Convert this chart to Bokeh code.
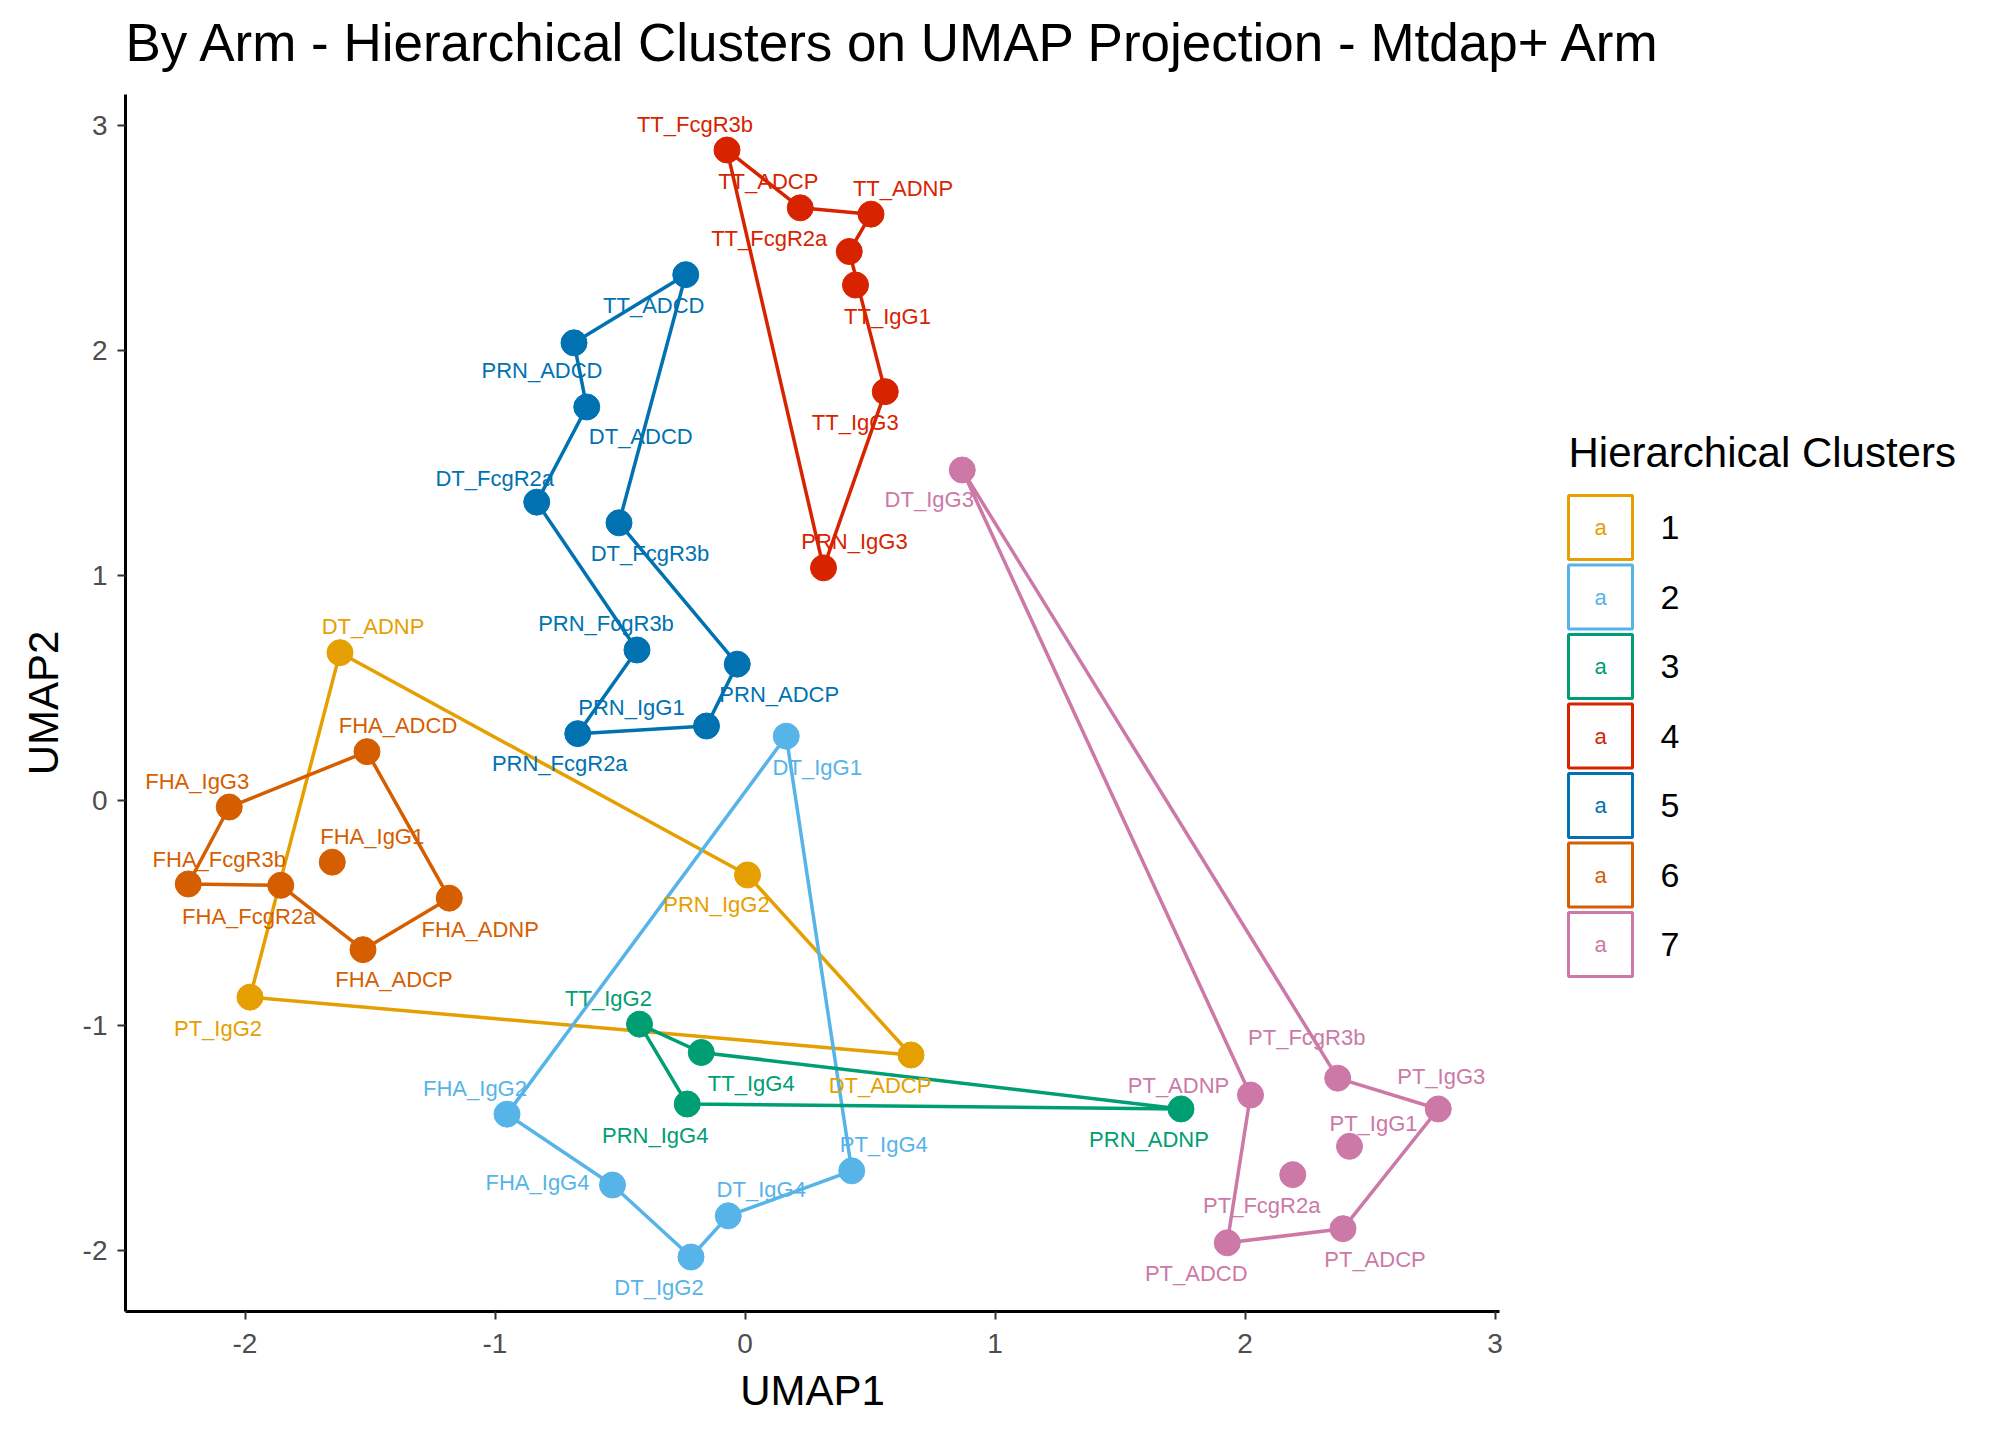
from bokeh.plotting import figure
from bokeh.models import FixedTicker, ColumnDataSource, Title
from bokeh.core.properties import value
from bokeh.embed import file_html
from bokeh.resources import INLINE

# ---------------- data ----------------
names = ["DT_ADNP", "PRN_IgG2", "DT_ADCP", "PT_IgG2",
         "DT_IgG1", "FHA_IgG2", "FHA_IgG4", "DT_IgG2", "DT_IgG4", "PT_IgG4",
         "TT_IgG2", "TT_IgG4", "PRN_IgG4", "PRN_ADNP",
         "TT_FcgR3b", "TT_ADCP", "TT_ADNP", "TT_FcgR2a", "TT_IgG1", "TT_IgG3", "PRN_IgG3",
         "TT_ADCD", "PRN_ADCD", "DT_ADCD", "DT_FcgR2a", "DT_FcgR3b", "PRN_FcgR3b",
         "PRN_ADCP", "PRN_IgG1", "PRN_FcgR2a",
         "FHA_ADCD", "FHA_IgG3", "FHA_FcgR3b", "FHA_FcgR2a", "FHA_IgG1", "FHA_ADNP", "FHA_ADCP",
         "DT_IgG3", "PT_ADNP", "PT_FcgR3b", "PT_IgG3", "PT_IgG1", "PT_FcgR2a", "PT_ADCD", "PT_ADCP"]
umap1 = [-1.620, 0.010, 0.664, -1.980,
         0.165, -0.952, -0.530, -0.216, -0.067, 0.427,
         -0.422, -0.175, -0.231, 1.744,
         -0.072, 0.221, 0.504, 0.417, 0.442, 0.561, 0.314,
         -0.237, -0.684, -0.633, -0.833, -0.504, -0.432,
         -0.031, -0.154, -0.669,
         -1.512, -2.063, -2.227, -1.857, -1.651, -1.183, -1.528,
         0.869, 2.022, 2.371, 2.773, 2.418, 2.191, 1.929, 2.392]
umap2 = [0.657, -0.331, -1.131, -0.874,
         0.286, -1.394, -1.709, -2.029, -1.846, -1.646,
         -0.994, -1.120, -1.349, -1.371,
         2.891, 2.634, 2.606, 2.440, 2.291, 1.817, 1.034,
         2.337, 2.034, 1.749, 1.326, 1.234, 0.669,
         0.606, 0.331, 0.297,
         0.217, -0.029, -0.371, -0.377, -0.274, -0.434, -0.663,
         1.469, -1.309, -1.234, -1.371, -1.537, -1.663, -1.966, -1.903]
cluster = [1, 1, 1, 1,
           2, 2, 2, 2, 2, 2,
           3, 3, 3, 3,
           4, 4, 4, 4, 4, 4, 4,
           5, 5, 5, 5, 5, 5, 5, 5, 5,
           6, 6, 6, 6, 6, 6, 6,
           7, 7, 7, 7, 7, 7, 7, 7]

cluster_levels = ["1", "2", "3", "4", "5", "6", "7"]

# outline (hull) vertex order per cluster
hulls = {
    1: ["DT_ADNP", "PRN_IgG2", "DT_ADCP", "PT_IgG2"],
    2: ["DT_IgG1", "FHA_IgG2", "FHA_IgG4", "DT_IgG2", "DT_IgG4", "PT_IgG4"],
    3: ["TT_IgG2", "TT_IgG4", "PRN_ADNP", "PRN_IgG4"],
    4: ["TT_FcgR3b", "TT_ADCP", "TT_ADNP", "TT_FcgR2a", "TT_IgG3", "PRN_IgG3"],
    5: ["TT_ADCD", "PRN_ADCD", "DT_ADCD", "DT_FcgR2a", "PRN_FcgR3b", "PRN_FcgR2a",
        "PRN_IgG1", "PRN_ADCP", "DT_FcgR3b"],
    6: ["FHA_ADCD", "FHA_IgG3", "FHA_FcgR3b", "FHA_FcgR2a", "FHA_ADCP", "FHA_ADNP"],
    7: ["DT_IgG3", "PT_FcgR3b", "PT_IgG3", "PT_ADCP", "PT_ADCD", "PT_ADNP"],
}

title_text = "By Arm - Hierarchical Clusters on UMAP Projection - Mtdap+ Arm"
x_title, y_title = "UMAP1", "UMAP2"
legend_title = "Hierarchical Clusters"

# ---------------- styles ----------------
palette = {1: "#E69F00", 2: "#56B4E9", 3: "#009E73", 4: "#D72300",
           5: "#0072B2", 6: "#D55E00", 7: "#CC79A7"}

# label offsets (screen px, +y downward), repel-style placement
label_offsets = {
    "DT_ADNP": (33, -26), "PRN_IgG2": (-31, 30), "DT_ADCP": (-31, 31), "PT_IgG2": (-32, 31),
    "DT_IgG1": (31, 31), "FHA_IgG2": (-32, -26), "FHA_IgG4": (-75, -3), "DT_IgG2": (-32, 30),
    "DT_IgG4": (33, -26), "PT_IgG4": (32, -26),
    "TT_IgG2": (-31, -26), "TT_IgG4": (50, 31), "PRN_IgG4": (-32, 31), "PRN_ADNP": (-32, 31),
    "TT_FcgR3b": (-32, -26), "TT_ADCP": (-32, -26), "TT_ADNP": (32, -26), "TT_FcgR2a": (-80, -13),
    "TT_IgG1": (32, 31), "TT_IgG3": (-30, 31), "PRN_IgG3": (31, -26),
    "TT_ADCD": (-32, 31), "PRN_ADCD": (-32, 28), "DT_ADCD": (54, 30), "DT_FcgR2a": (-42, -24),
    "DT_FcgR3b": (31, 31), "PRN_FcgR3b": (-31, -26), "PRN_ADCP": (42, 30), "PRN_IgG1": (-75, -19),
    "PRN_FcgR2a": (-18, 30),
    "FHA_ADCD": (31, -26), "FHA_IgG3": (-32, -26), "FHA_FcgR3b": (31, -24), "FHA_FcgR2a": (-32, 31),
    "FHA_IgG1": (40, -26), "FHA_ADNP": (31, 31), "FHA_ADCP": (31, 30),
    "DT_IgG3": (-33, 30), "PT_ADNP": (-72, -10), "PT_FcgR3b": (-31, -41), "PT_IgG3": (3, -32),
    "PT_IgG1": (24, -23), "PT_FcgR2a": (-31, 31), "PT_ADCD": (-31, 31), "PT_ADCP": (32, 31),
}

FONT = "Liberation Sans"

# pixel geometry (page px) of the panel
PX_X0, PX_PER_X = 744.5, 250.0
PX_Y0, PX_PER_Y = 800.0, 225.0
PANEL_L, PANEL_R, PANEL_T, PANEL_B = 125, 1499, 94, 1311
FRAME_R, FRAME_T = 2000, 0
FIG_W, FIG_H = 2000, 1428

def fx(px):
    return (px - PX_X0) / PX_PER_X

def fy(py):
    return (PX_Y0 - py) / PX_PER_Y

x_start, x_end = fx(PANEL_L), fx(FRAME_R)
y_start, y_end = fy(PANEL_B), fy(FRAME_T)

p = figure(width=FIG_W, height=FIG_H, output_backend="svg", toolbar_location=None,
           x_range=(x_start, x_end), y_range=(y_start, y_end),
           frame_width=FRAME_R - PANEL_L, frame_height=PANEL_B - FRAME_T,
           min_border_left=PANEL_L, min_border_right=0,
           min_border_top=FRAME_T, min_border_bottom=FIG_H - PANEL_B)
p.outline_line_color = None
p.grid.visible = False
p.background_fill_color = "white"
p.border_fill_color = "white"

# axes
for ax in (p.xaxis[0], p.yaxis[0]):
    ax.axis_line_color = "black"
    ax.axis_line_width = 3
    ax.major_tick_line_color = "#333333"
    ax.major_tick_line_width = 2
    ax.major_tick_out = 8
    ax.major_tick_in = 0
    ax.minor_tick_line_color = None
    ax.major_label_text_font = FONT
    ax.major_label_text_font_size = "28px"
    ax.major_label_text_color = "#4D4D4D"

xt = [-2, -1, 0, 1, 2, 3]
yt = [-2, -1, 0, 1, 2, 3]
p.xaxis.ticker = FixedTicker(ticks=xt)
p.yaxis.ticker = FixedTicker(ticks=yt)
p.xaxis.major_label_overrides = {t: str(t) for t in xt}
p.yaxis.major_label_overrides = {t: str(t) for t in yt}
p.xaxis.bounds = (x_start, fx(PANEL_R))
p.yaxis.bounds = (y_start, fy(PANEL_T))
p.xaxis.major_label_standoff = 14
p.yaxis.major_label_standoff = 10

# axis titles centred on the panel (the frame extends right/up for legend & title)
lab_w = 3.445 * 42  # approx. width of "UMAP1"/"UMAP2" at 42px
p.add_layout(Title(text=x_title, align="left",
                   offset=(PANEL_L + PANEL_R) / 2 - lab_w / 2 - PANEL_L,
                   text_font=FONT, text_font_size="42px", text_font_style="normal",
                   text_color="black", standoff=18), "below")
p.add_layout(Title(text=y_title, align="left",
                   offset=PANEL_B - ((PANEL_T + PANEL_B) / 2 + lab_w / 2),
                   text_font=FONT, text_font_size="42px", text_font_style="normal",
                   text_color="black", standoff=26), "left")

# plot title (drawn in the free band above the panel)
p.text([fx(PANEL_L)], [fy(42)], text=[title_text], text_color="black",
       text_font=value(FONT), text_font_size="53px", text_align="left",
       text_baseline="middle")

idx = {n: i for i, n in enumerate(names)}

# hull outlines
for c in range(1, 8):
    order = hulls[c]
    hx = [umap1[idx[n]] for n in order] + [umap1[idx[order[0]]]]
    hy = [umap2[idx[n]] for n in order] + [umap2[idx[order[0]]]]
    p.line(hx, hy, line_color=palette[c], line_width=3.5, line_join="round")

colors = [palette[c] for c in cluster]
src = ColumnDataSource(dict(x=umap1, y=umap2, name=names, color=colors,
                            dx=[label_offsets[n][0] for n in names],
                            dy=[label_offsets[n][1] for n in names]))
p.scatter("x", "y", source=src, size=26, fill_color="color", line_color="color")
p.text("x", "y", text="name", source=src, x_offset="dx", y_offset="dy",
       text_color="color", text_font=value(FONT), text_font_size="22px",
       text_align="center", text_baseline="middle")

# legend (drawn in the free area right of the panel)
KEY_X, KEY_Y0, KEY_DY, KEY_SIZE = 1600, 527, 69.5, 64
key_x = [fx(KEY_X)] * len(cluster_levels)
key_y = [fy(KEY_Y0 + KEY_DY * i) for i in range(len(cluster_levels))]
key_col = [palette[int(c)] for c in cluster_levels]
p.rect(key_x, key_y, width=KEY_SIZE, height=KEY_SIZE, width_units="screen",
       height_units="screen", fill_color=None, line_color=key_col, line_width=3)
p.text(key_x, key_y, text=["a"] * len(cluster_levels), text_color=key_col,
       text_font=value(FONT), text_font_size="22px", text_align="center",
       text_baseline="middle")
p.text([fx(1660)] * len(cluster_levels), key_y, text=cluster_levels,
       text_color="black", text_font=value(FONT), text_font_size="34px",
       text_align="left", text_baseline="middle")
p.text([fx(1568)], [fy(452)], text=[legend_title], text_color="black",
       text_font=value(FONT), text_font_size="42px", text_align="left",
       text_baseline="middle")

open("out.html", "w").write(file_html(p, INLINE))
